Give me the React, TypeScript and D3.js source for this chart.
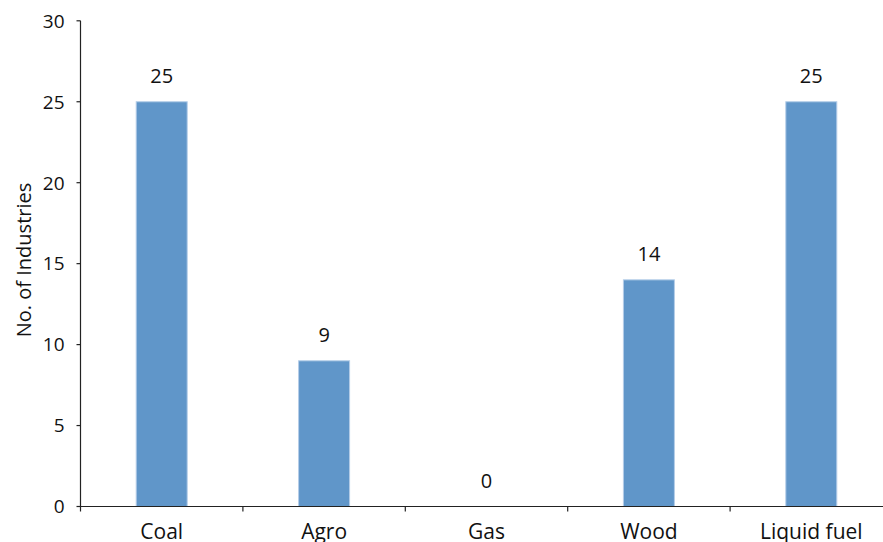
import React from "react";
import * as d3 from "d3";

const categories = ["Coal", "Agro", "Gas", "Wood", "Liquid fuel"];
const values = [25, 9, 0, 14, 25];
const yTicks = [0, 5, 10, 15, 20, 25, 30];

export default function App() {
  const W = 883, H = 542;
  const left = 80.5, right = 892.5, top = 20.8, bottom = 506.5;
  const x = d3.scaleBand<string>().domain(categories).range([left, right]).paddingInner(0.686).paddingOuter(0.343);
  const xb = d3.scaleBand<string>().domain(categories).range([left, right]);
  const y = d3.scaleLinear().domain([0, 30]).range([bottom, top]);
  const font = "'Open Sans', 'Noto Sans', sans-serif";
  return (
    <svg width={W} height={H} style={{ position: "absolute", left: 0, top: 0, background: "#fff" }} fontFamily={font}>
      {categories.map((c, i) => (
        values[i] > 0 ? (
          <rect key={c} x={x(c)} y={y(values[i])} width={x.bandwidth()} height={y(0) - y(values[i])}
            fill="#6096C9" stroke="#B4CDE8" strokeWidth={1} />
        ) : null
      ))}
      {categories.map((c, i) => (
        <text key={"v" + c} x={(xb(c) as number) + xb.bandwidth() / 2} y={y(values[i]) - 18.6} textAnchor="middle" fontSize={20} fill="#111">{values[i]}</text>
      ))}
      <line x1={left} x2={left} y1={top} y2={bottom} stroke="#222" strokeWidth={1.2} />
      <line x1={left - 1} x2={W} y1={bottom} y2={bottom} stroke="#222" strokeWidth={1.2} />
      {yTicks.map(t => (
        <g key={"y" + t}>
          <line x1={left - 4} x2={left} y1={y(t)} y2={y(t)} stroke="#222" strokeWidth={1.2} />
          <text x={64.5} y={y(t)} dy="0.36em" textAnchor="end" fontSize={19} fill="#111">{t}</text>
        </g>
      ))}
      {categories.map((c) => (
        <line key={"xt" + c} x1={(xb(c) as number)} x2={(xb(c) as number)} y1={bottom} y2={bottom + 5} stroke="#222" strokeWidth={1.2} />
      ))}
      {categories.map(c => (
        <text key={"xl" + c} x={(xb(c) as number) + xb.bandwidth() / 2} y={539.3} textAnchor="middle" fontSize={21} fill="#111">{c}</text>
      ))}
      <text transform={`translate(31, 260) rotate(-90)`} textAnchor="middle" fontSize={20} fill="#111">No. of Industries</text>
    </svg>
  );
}
